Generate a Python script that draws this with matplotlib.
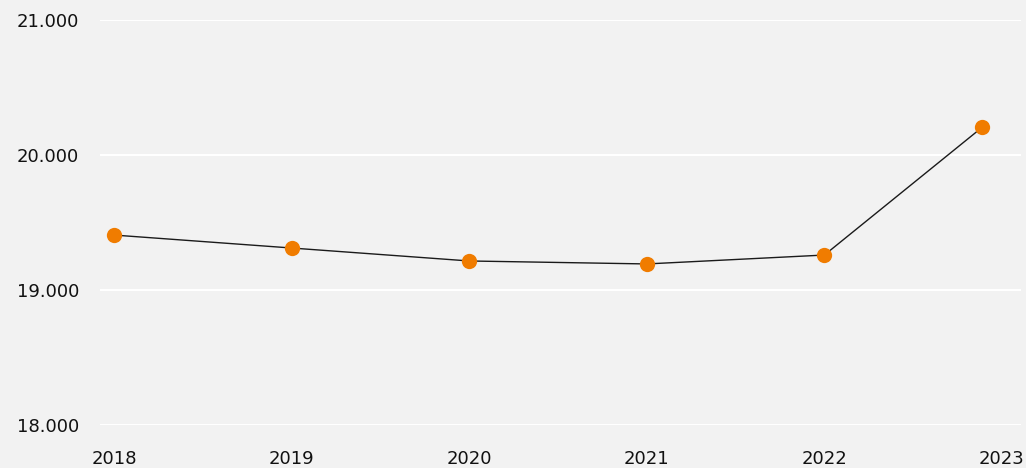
import matplotlib
matplotlib.use("Agg")
import matplotlib.pyplot as plt
from matplotlib.ticker import FuncFormatter

# Data
years = [2018, 2019, 2020, 2021, 2022, 2022.89]
values = [19407, 19311, 19215, 19193, 19259, 20207]
tick_years = [2018, 2019, 2020, 2021, 2022, 2023]
y_ticks = [18000, 19000, 20000, 21000]

bg = "#f2f2f2"
fig = plt.figure(figsize=(10.26, 4.68), dpi=100, facecolor=bg)
ax = fig.add_axes([100/1026, 1 - 425/468, 921/1026, 405/468], facecolor=bg)

ax.plot(years, values, color="#1a1a1a", lw=1.0, zorder=2)
ax.plot(years, values, "o", color="#f07c00", ms=11, mec="none", zorder=3)

ax.set_ylim(18000, 21000)
ax.set_xlim(2018 - 14/177.6, 2023 + 19/177.6)
ax.set_yticks(y_ticks)
ax.set_xticks(tick_years)
ax.set_xticklabels([str(y) for y in tick_years])
ax.yaxis.set_major_formatter(FuncFormatter(lambda v, p: f"{int(v):,}".replace(",", ".")))

ax.grid(axis="y", color="white", lw=1.5, zorder=1)
ax.grid(axis="x", visible=False)
for s in ax.spines.values():
    s.set_visible(False)
ax.tick_params(axis="both", length=0, labelsize=13, colors="#111111")
ax.tick_params(axis="y", pad=15)
ax.tick_params(axis="x", pad=18)

fig.savefig("out.png", dpi=100, facecolor=bg)
